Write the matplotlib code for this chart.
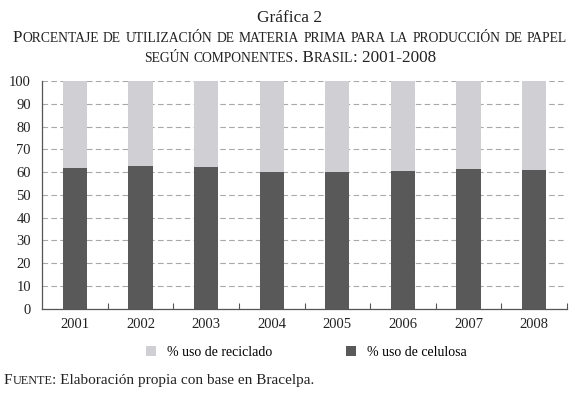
import numpy as np
import matplotlib
matplotlib.use("Agg")
from matplotlib import pyplot as plt
from matplotlib.patches import Patch

plt.rcParams['font.family'] = ['Liberation Serif', 'DejaVu Serif']

# data
years = ["2001", "2002", "2003", "2004", "2005", "2006", "2007", "2008"]
celulosa = [61.9, 62.6, 62.1, 60.2, 60.2, 60.6, 61.3, 60.9]
reciclado = [38.1, 37.4, 37.9, 39.8, 39.8, 39.4, 38.7, 39.1]

dark = "#595959"
light = "#d0d0d4"


def small_caps(fig, xc, y, text, size, ratio=0.8):
    # fake small caps: lower case letters drawn as smaller capitals
    runs = []
    for ch in text:
        small = ch.isalpha() and ch.islower()
        if runs and runs[-1][1] == small:
            runs[-1][0] += ch
        else:
            runs.append([ch, small])
    texts = []
    for s, small in runs:
        t = fig.text(0, y, s.upper() if small else s,
                     fontsize=size * ratio if small else size,
                     va='baseline', ha='left', color="#222222")
        texts.append(t)
    fig.canvas.draw()
    r = fig.canvas.get_renderer()
    widths = [t.get_window_extent(r).width for t in texts]
    W = fig.bbox.width
    x = xc * W - sum(widths) / 2 if xc is not None else 0
    return texts, widths, x


def place(texts, widths, x0):
    W = texts[0].figure.bbox.width
    x = x0
    for t, w in zip(texts, widths):
        t.set_x(x / W)
        x += w


fig = plt.figure(figsize=(5.8, 3.98), dpi=100)
ax = fig.add_axes([0.0724, 0.2244, 0.9052, 0.5721])

x = np.arange(len(years))
ax.bar(x, celulosa, width=0.37, color=dark, zorder=3, label="% uso de celulosa")
ax.bar(x, reciclado, width=0.37, bottom=celulosa, color=light, zorder=3,
       label="% uso de reciclado")

ax.set_xlim(-0.5, len(years) - 0.5)
ax.set_ylim(0, 100)
ax.set_yticks(np.arange(0, 101, 10))
ax.yaxis.grid(True, linestyle=(0, (5, 3)), color="#a8a8a8", linewidth=0.8)
ax.set_axisbelow(True)
ax.tick_params(axis='y', length=0, labelsize=10.5, pad=8, colors="#222222")

ax.set_xticks(x)
ax.set_xticklabels(years)
ax.set_xticks(np.arange(0.5, len(years), 1), minor=True)
ax.tick_params(axis='x', which='major', length=0, labelsize=10.5, pad=7,
               colors="#222222")
ax.tick_params(axis='x', which='minor', length=4, direction='in',
               color="#555555", width=0.8)

for side in ["top", "right"]:
    ax.spines[side].set_visible(False)
for side in ["left", "bottom"]:
    ax.spines[side].set_color("#555555")
    ax.spines[side].set_linewidth(0.9)

handles = [Patch(facecolor=light, edgecolor="none", label="% uso de reciclado"),
           Patch(facecolor=dark, edgecolor="none", label="% uso de celulosa")]
fig.legend(handles=handles, loc="center", bbox_to_anchor=(0.528, 1 - 352 / 398),
           ncol=2, frameon=False, fontsize=10, handlelength=0.7,
           handleheight=0.7, handletextpad=0.8, columnspacing=5.3)

# titles
fig.text(0.5, 1 - 22 / 398, "Gráfica 2", ha='center', va='baseline',
         fontsize=12.5, color="#222222")
t, w, x0 = small_caps(fig, 0.5, 1 - 42 / 398,
                      "Porcentaje de utilización de materia prima para la producción de papel", 12.3)
place(t, w, x0)
t, w, x0 = small_caps(fig, 0.5, 1 - 62 / 398,
                      "según componentes. Brasil: 2001-2008", 12.3)
place(t, w, x0)
t, w, x0 = small_caps(fig, None, 1 - 384 / 398,
                      "Fuente", 11)
place(t, w, 4)
end = 4 + sum(w)
fig.text(end / fig.bbox.width, 1 - 384 / 398,
         ": Elaboración propia con base en Bracelpa.",
         ha='left', va='baseline', fontsize=11, color="#222222")

fig.savefig("out.png", dpi=100)
